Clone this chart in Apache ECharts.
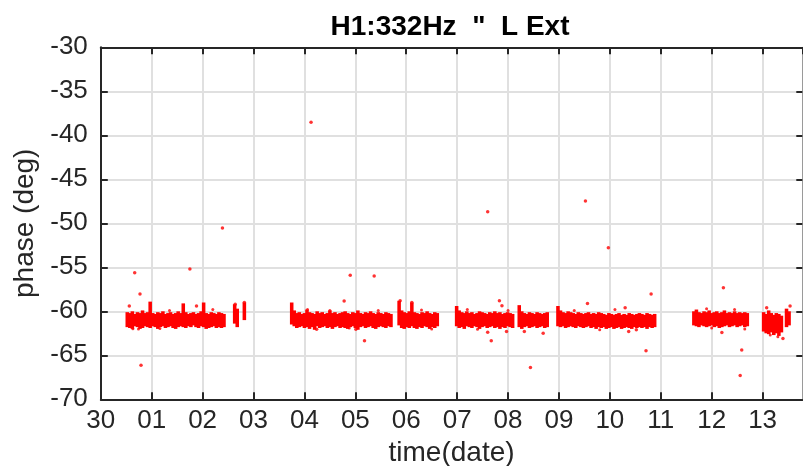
<!DOCTYPE html>
<html>
<head>
<meta charset="utf-8">
<script src="https://cdn.jsdelivr.net/npm/echarts@6.0.0/dist/echarts.min.js"></script>
<style>html,body{margin:0;padding:0;background:#fff}#c{width:803px;height:466px}</style>
</head>
<body>
<div id="c"></div>
<script>
// x values are days counted from the 30th (0 = "30", 1 = "01", ...)
const tickLabels = ['30','01','02','03','04','05','06','07','08','09','10','11','12','13'];
const bandStep = 0.05; // sampling interval of the dense band (days)

// dense band segments: start day, then upper / lower envelope of the point cloud
const segA_start = 0.52;
const segA_top = [-60.1,-60.2,-60.0,-60.3,-60.1,-60.2,-59.9,-60.2,-60.1,-58.9,
  -60.2,-60.3,-60.1,-60.2,-60.0,-60.3,-60.2,-60.1,-60.3,-60.2,
  -60.0,-60.2,-59.1,-60.1,-60.3,-60.2,-60.1,-60.3,-60.2,-60.0,
  -59.0,-60.2,-60.3,-60.1,-60.2,-60.3,-60.1,-60.2,-60.3];
const segA_bot = [-61.8,-61.9,-62.0,-61.7,-61.8,-62.0,-61.9,-61.7,-61.8,-61.9,
  -61.7,-61.8,-62.0,-61.8,-61.7,-61.9,-61.8,-61.7,-61.9,-62.0,
  -61.8,-61.7,-61.8,-61.9,-61.7,-61.8,-61.6,-61.8,-61.9,-61.7,
  -61.8,-62.0,-61.9,-61.8,-61.7,-61.9,-61.8,-61.9,-61.8];

const segA2_start = 2.63;
const segA2_top = [-59.2,-59.7];
const segA2_bot = [-61.4,-61.8];

const segA3_start = 2.82;
const segA3_top = [-59.0];
const segA3_bot = [-61.0];

const segB1_start = 3.75;
const segB1_top = [-59.0,-59.9,-60.2,-60.1,-60.3,-60.2,-59.8,-60.1,-60.2,-60.3,
  -60.0,-60.2,-60.1,-60.3,-60.2,-59.9,-60.2,-60.1,-60.3,-60.2,
  -60.1,-60.0,-60.2,-60.3,-60.1,-60.2,-59.9,-60.2,-60.3,-60.1,
  -60.2,-60.0,-60.2,-60.3,-60.1,-60.2,-60.3,-60.1,-60.2,-60.3];
const segB1_bot = [-61.5,-61.7,-61.9,-61.8,-61.7,-61.9,-61.8,-62.0,-61.8,-62.1,
  -61.7,-61.9,-61.8,-61.7,-61.9,-61.8,-62.0,-61.8,-61.7,-61.9,
  -61.8,-61.9,-62.0,-61.8,-61.7,-61.9,-62.1,-61.8,-61.7,-61.9,
  -61.8,-61.7,-61.9,-62.0,-61.8,-61.7,-61.8,-61.9,-61.7,-61.8];

const segB2_start = 5.86;
const segB2_top = [-58.8,-59.9,-60.1,-60.2,-60.0,-59.0,-60.1,-60.2,-60.3,-60.1,-60.2,-60.0,-60.2,-60.3,-60.1,-60.2];
const segB2_bot = [-61.6,-61.9,-62.0,-61.8,-61.9,-61.7,-61.9,-62.0,-61.8,-61.9,-61.7,-61.8,-62.0,-61.8,-61.9,-61.7];

const segC1_start = 6.99;
const segC1_top = [-59.4,-59.9,-60.1,-60.2,-60.0,-60.2,-60.1,-60.3,-60.2,-60.0,
  -60.1,-60.2,-60.3,-60.1,-60.2,-60.0,-60.2,-60.1,-60.3,-60.2,-60.1,-60.2,-60.3];
const segC1_bot = [-61.7,-61.9,-61.8,-62.0,-61.7,-61.8,-61.9,-61.7,-61.8,-62.0,
  -61.8,-61.7,-61.9,-61.8,-61.7,-61.9,-61.8,-62.0,-61.8,-61.9,-61.7,-61.8,-61.9];

const segC2_start = 8.22;
const segC2_top = [-59.3,-60.0,-60.2,-60.3,-60.1,-60.2,-60.3,-60.1,-60.2,-60.3,-60.2,-60.1];
const segC2_bot = [-61.8,-62.0,-61.8,-61.7,-61.9,-61.8,-61.7,-61.9,-61.8,-61.7,-61.9,-61.8];

const segC3_start = 8.98;
const segC3_top = [-59.4,-59.9,-60.1,-60.2,-60.0,-60.1,-60.2,-60.3,-60.1,-60.2,
  -60.3,-60.2,-60.1,-60.3,-60.2,-60.3,-60.1,-60.2,-60.3,-60.4,
  -60.2,-60.3,-60.4,-60.3,-60.2,-60.4,-60.3,-60.4,-60.2,-60.3,
  -60.4,-60.3,-60.2,-60.3,-60.4,-60.2,-60.3,-60.4,-60.3];
const segC3_bot = [-61.7,-61.8,-61.7,-61.9,-61.8,-61.7,-61.8,-61.9,-61.7,-61.8,
  -61.9,-61.8,-61.7,-61.9,-61.8,-62.0,-61.8,-61.9,-61.8,-62.0,
  -61.9,-61.8,-62.0,-61.9,-61.8,-62.0,-61.9,-61.8,-61.9,-62.0,
  -61.8,-61.9,-61.8,-61.9,-61.8,-62.0,-61.8,-61.9,-61.8];

const segD1_start = 11.65;
const segD1_top = [-60.0,-59.8,-60.1,-60.2,-60.0,-60.1,-59.9,-60.2,-60.1,-60.0,-60.2,
  -60.1,-59.9,-60.2,-60.1,-60.2,-60.0,-60.2,-60.1,-60.2,-60.1,-60.2];
const segD1_bot = [-61.6,-61.7,-61.8,-61.6,-61.7,-61.8,-61.7,-61.6,-61.8,-61.7,-61.9,
  -61.8,-61.7,-61.6,-61.8,-61.7,-61.6,-61.8,-61.7,-61.6,-61.8,-61.7];

const segD2_start = 13.02;
const segD2_top = [-60.1,-60.3,-59.9,-60.2,-60.4,-60.2,-60.3,-60.5];
const segD2_bot = [-62.3,-62.5,-62.6,-62.4,-62.7,-62.5,-62.8,-62.4];

const segD3_start = 13.47;
const segD3_top = [-59.7,-60.0];
const segD3_bot = [-61.8,-61.6];

// isolated points [day, phase]
const outlierPoints = [
  [4.13,-38.52],[2.39,-50.53],[0.666,-55.61],[1.75,-55.19],[4.90,-55.91],[5.37,-55.99],
  [7.60,-48.68],[9.52,-47.47],[9.97,-52.77],[12.23,-57.32],[0.77,-58.03],[0.79,-66.14],
  [0.56,-59.4],[1.88,-59.4],[4.78,-58.83],[5.18,-63.34],[4.24,-62.05],[5.01,-62.05],
  [5.88,-58.8],[6.11,-59.0],[7.83,-58.8],[7.88,-59.36],[7.60,-62.39],[7.67,-63.34],
  [7.97,-62.3],[8.32,-62.3],[8.69,-62.5],[8.44,-66.4],[9.56,-59.1],[10.81,-58.03],
  [10.30,-59.6],[10.37,-62.3],[10.52,-62.1],[10.71,-64.48],[12.20,-62.4],[12.59,-64.4],
  [12.56,-67.3],[13.08,-59.6],[13.40,-63.1],[13.54,-59.4],[2.64,-59.2],[2.82,-59.0]
];
// scattered points just outside the band edges
const edgePoints = [
  [0.63,-61.98],[0.74,-62.0],[1.16,-61.95],[1.35,-59.9],[2.2,-59.8],[4.06,-59.8],
  [4.5,-59.9],[4.88,-61.9],[5.45,-59.9],[6.3,-59.85],[6.5,-62.0],[7.2,-59.8],
  [7.4,-62.05],[8.0,-59.9],[9.3,-59.9],[9.8,-62.1],[10.1,-59.8],[11.9,-59.7],
  [12.0,-61.9],[12.45,-59.8],[12.65,-62.0],[13.3,-62.9],[13.15,-62.7]
];

const segments = [
  [segA_start, segA_top, segA_bot], [segA2_start, segA2_top, segA2_bot], [segA3_start, segA3_top, segA3_bot],
  [segB1_start, segB1_top, segB1_bot], [segB2_start, segB2_top, segB2_bot],
  [segC1_start, segC1_top, segC1_bot], [segC2_start, segC2_top, segC2_bot], [segC3_start, segC3_top, segC3_bot],
  [segD1_start, segD1_top, segD1_bot], [segD2_start, segD2_top, segD2_bot], [segD3_start, segD3_top, segD3_bot]
];
const bandData = [];
segments.forEach(function (s) {
  const n = Math.min(s[1].length, s[2].length);
  for (let k = 0; k < n; k++) bandData.push([s[0] + k * bandStep, s[1][k], s[2][k]]);
});

const FONT = '"Liberation Sans", Arial, Helvetica, sans-serif';
const TXT = '#262626';
const chart = echarts.init(document.getElementById('c'), null, {renderer: 'canvas'});
chart.setOption({
  animation: false,
  backgroundColor: '#ffffff',
  title: {
    text: 'H1:332Hz  "  L Ext',
    left: 445, top: 8, textAlign: 'center',
    textStyle: {fontFamily: FONT, fontSize: 28, fontWeight: 'bold', color: '#000'}
  },
  grid: {left: 100.8, right: 0.7, top: 47.3, bottom: 66.7, containLabel: false, outerBoundsMode: 'none'},
  xAxis: [{
    type: 'value', min: 0, max: 13.78, interval: 1, position: 'bottom',
    name: 'time(date)', nameLocation: 'middle', nameGap: 32,
    nameTextStyle: {fontFamily: FONT, fontSize: 28, color: TXT},
    axisLine: {show: true, onZero: false, lineStyle: {color: '#262626', width: 2}},
    axisTick: {show: true, inside: true, length: 7, lineStyle: {color: '#262626', width: 2}},
    axisLabel: {fontFamily: FONT, fontSize: 26, color: TXT, margin: 9, showMaxLabel: false,
      formatter: function (v) { return Number.isInteger(v) ? (tickLabels[v] || '') : ''; }},
    splitLine: {show: true, lineStyle: {color: '#e0e0e0', width: 2}}
  }, {
    type: 'value', min: 0, max: 13.78, interval: 1, position: 'top',
    axisLine: {show: true, onZero: false, lineStyle: {color: '#262626', width: 2}},
    axisTick: {show: true, inside: true, length: 7, lineStyle: {color: '#262626', width: 2}},
    axisLabel: {show: false}, splitLine: {show: false}
  }],
  yAxis: [{
    type: 'value', min: -70, max: -30, interval: 5, position: 'left',
    name: 'phase (deg)', nameLocation: 'middle', nameGap: 58, nameRotate: 90,
    nameTextStyle: {fontFamily: FONT, fontSize: 28, color: TXT},
    axisLine: {show: true, onZero: false, lineStyle: {color: '#262626', width: 2}},
    axisTick: {show: true, inside: true, length: 7, lineStyle: {color: '#262626', width: 2}},
    axisLabel: {fontFamily: FONT, fontSize: 26, color: TXT, margin: 13},
    splitLine: {show: true, lineStyle: {color: '#e0e0e0', width: 2}}
  }, {
    type: 'value', min: -70, max: -30, interval: 5, position: 'right',
    axisLine: {show: true, onZero: false, lineStyle: {color: '#9a9a9a', width: 1}},
    axisTick: {show: true, inside: true, length: 6, lineStyle: {color: '#262626', width: 2}},
    axisLabel: {show: false}, splitLine: {show: false}
  }],
  series: [{
    type: 'custom', xAxisIndex: 0, yAxisIndex: 0, data: bandData, silent: true,
    renderItem: function (params, api) {
      const x = api.value(0);
      const p1 = api.coord([x - bandStep / 2, api.value(1)]);
      const p2 = api.coord([x + bandStep / 2, api.value(2)]);
      return {type: 'rect', shape: {x: p1[0] - 0.5, y: p1[1], width: p2[0] - p1[0] + 1, height: p2[1] - p1[1]},
        style: {fill: '#ff0000', stroke: null}};
    }
  }, {
    type: 'scatter', xAxisIndex: 0, yAxisIndex: 0, data: edgePoints, symbolSize: 3,
    itemStyle: {color: '#ff0000'}, silent: true
  }, {
    type: 'scatter', xAxisIndex: 0, yAxisIndex: 0, data: outlierPoints, symbolSize: 3.5,
    itemStyle: {color: '#ff0000'}, silent: true
  }]
});
</script>
</body>
</html>
